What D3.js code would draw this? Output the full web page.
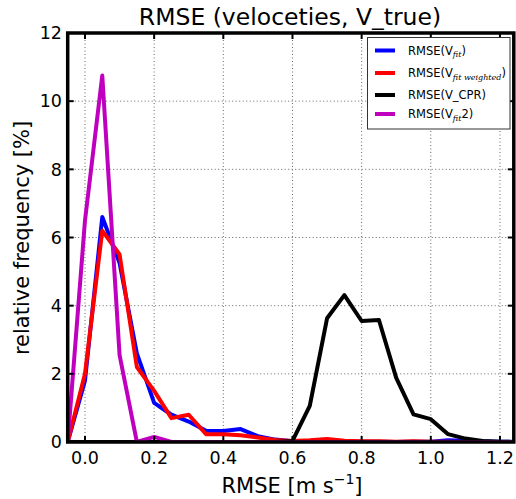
<!DOCTYPE html>
<html><head><meta charset="utf-8">
<script src="https://cdn.jsdelivr.net/npm/d3@7/dist/d3.min.js"></script>
<style>body{margin:0;background:#fff}svg{display:block;font-family:"DejaVu Sans",sans-serif}</style>
</head><body>
<script>
const xBins = [-0.05,0.0,0.05,0.1,0.15,0.2,0.25,0.3,0.35,0.4,0.45,0.5,0.55,0.6,0.65,0.7,0.75,0.8,0.85,0.9,0.95,1.0,1.05,1.1,1.15,1.2,1.25];
const vFit = [0,1.8,6.6,5.25,2.6,1.15,0.8,0.6,0.33,0.32,0.38,0.17,0.07,0.02,0.03,0.05,0.02,0.01,0.01,0,0.01,0.01,0.05,0.04,0.02,0.01,0];
const vFitWeighted = [0,2.0,6.2,5.5,2.2,1.5,0.7,0.8,0.23,0.23,0.2,0.13,0.06,0.03,0.05,0.09,0.04,0.02,0.02,0.01,0.02,0.01,0.01,0,0,0,0];
const vCPR = [0,0,0,0,0,0,0,0,0,0,0,0,0,0.03,1.06,3.63,4.31,3.55,3.58,1.88,0.81,0.67,0.23,0.1,0.03,0.01,0];
const vFit2 = [0,6.5,10.75,2.55,0,0.15,0,0,0,0,0,0,0,0,0,0,0,0,0,0,0,0,0,0,0,0,0];
const xTicks = [0.0,0.2,0.4,0.6,0.8,1.0,1.2];
const yTicks = [0,2,4,6,8,10,12];
const seriesList = [
  {values: vFit, color: "#0000ff", label: ["RMSE(V", "fit", ")"]},
  {values: vFitWeighted, color: "#ff0000", label: ["RMSE(V", "fit weighted", ")"]},
  {values: vCPR, color: "#000000", label: ["RMSE(V_CPR)"]},
  {values: vFit2, color: "#bf00bf", label: ["RMSE(V", "fit", "2)"]}
];

const W = 516, H = 499;
const L = 67.7, R = 513.8, T = 33, B = 442;
const svg = d3.select("body").append("svg").attr("width", W).attr("height", H);
const x = d3.scaleLinear().domain([-0.05, 1.24]).range([L, R]);
const y = d3.scaleLinear().domain([0, 12]).range([B, T]);

svg.append("defs").append("clipPath").attr("id","clip")
  .append("rect").attr("x", L).attr("y", T).attr("width", R-L).attr("height", B-T);

// grid
const grid = svg.append("g").attr("stroke","#666").attr("stroke-width",1).attr("stroke-dasharray","1,2.5");
xTicks.forEach(t => grid.append("line").attr("x1", x(t)).attr("x2", x(t)).attr("y1", T).attr("y2", B));
yTicks.forEach(t => grid.append("line").attr("x1", L).attr("x2", R).attr("y1", y(t)).attr("y2", y(t)));

// lines
const line = d3.line().x((d,i) => x(xBins[i])).y(d => y(d));
const lg = svg.append("g").attr("clip-path","url(#clip)");
seriesList.forEach(s => {
  lg.append("path").datum(s.values).attr("d", line).attr("fill","none")
    .attr("stroke", s.color).attr("stroke-width", 4).attr("stroke-linejoin","round");
});

// axes with inward ticks on all sides
const tickLen = 6;
const ax = svg.append("g").attr("stroke","#000").attr("stroke-width",2);
xTicks.forEach(t => {
  ax.append("line").attr("x1", x(t)).attr("x2", x(t)).attr("y1", B).attr("y2", B - tickLen);
  ax.append("line").attr("x1", x(t)).attr("x2", x(t)).attr("y1", T).attr("y2", T + tickLen);
});
yTicks.forEach(t => {
  ax.append("line").attr("x1", L).attr("x2", L + tickLen).attr("y1", y(t)).attr("y2", y(t));
  ax.append("line").attr("x1", R).attr("x2", R - tickLen).attr("y1", y(t)).attr("y2", y(t));
});
svg.append("rect").attr("x", L).attr("y", T).attr("width", R-L).attr("height", B-T)
  .attr("fill","none").attr("stroke","#000").attr("stroke-width",3.5);

// tick labels
const fmt = d3.format(".1f");
xTicks.forEach(t => svg.append("text").attr("x", x(t)).attr("y", 464).attr("text-anchor","middle")
  .attr("font-size", 17.5).text(fmt(t)));
yTicks.forEach(t => svg.append("text").attr("x", 62).attr("y", y(t)).attr("dy","0.36em").attr("text-anchor","end")
  .attr("font-size", 17.5).text(t));

// title and axis labels
svg.append("text").attr("x", 290).attr("y", 25).attr("text-anchor","middle").attr("font-size", 23.5)
  .text("RMSE (veloceties, V_true)");
const xl = svg.append("text").attr("x", 292).attr("y", 493).attr("text-anchor","middle").attr("font-size", 21);
xl.append("tspan").text("RMSE [m s");
xl.append("tspan").attr("font-size", 14).attr("dy", -9).text("\u22121");
xl.append("tspan").attr("dy", 9).text("]");
svg.append("text").attr("transform","translate(29,238) rotate(-90)").attr("text-anchor","middle")
  .attr("font-size", 21).text("relative frequency [%]");

// legend
const leg = svg.append("g");
leg.append("rect").attr("x", 367.5).attr("y", 37.5).attr("width", 142.5).attr("height", 91.5)
  .attr("fill","#fff").attr("stroke","#333").attr("stroke-width",1);
const rowsY = [50.5, 73, 95, 114];
seriesList.forEach((s, i) => {
  const cy = rowsY[i];
  leg.append("line").attr("x1", 375).attr("x2", 395).attr("y1", cy).attr("y2", cy)
    .attr("stroke", s.color).attr("stroke-width", 4);
  const t = leg.append("text").attr("x", 408).attr("y", cy + 4.2).attr("font-size", 11.5);
  t.append("tspan").text(s.label[0]);
  if (s.label.length > 1) {
    t.append("tspan").attr("font-family","'DejaVu Serif',serif").attr("font-style","italic")
      .attr("font-size", 8).attr("dy", 2.5).text(s.label[1]);
    t.append("tspan").attr("dy", -2.5).text(s.label[2]);
  }
});
</script>
</body></html>
